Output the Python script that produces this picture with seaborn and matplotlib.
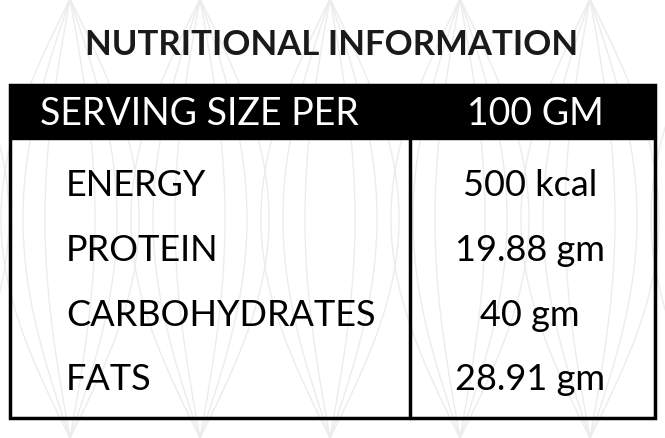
import matplotlib
matplotlib.use("Agg")
import matplotlib.pyplot as plt
import seaborn as sns
import numpy as np

sns.set_style("white")
plt.rcParams['font.family'] = ['Lato', 'DejaVu Sans']

title = "NUTRITIONAL INFORMATION"
header = ["SERVING SIZE PER", "100 GM"]
nutrients = ["ENERGY", "PROTEIN", "CARBOHYDRATES", "FATS"]
amounts = ["500 kcal", "19.88 gm", "40 gm", "28.91 gm"]

fig = plt.figure(figsize=(6.65, 4.39), dpi=100)
ax = fig.add_axes([0, 0, 1, 1])
ax.set_xlim(0, 665)
ax.set_ylim(439, 0)
ax.axis("off")

# faint leaf pattern in the background
t = np.linspace(0, 1, 100)
for cx in range(-60, 760, 130):
    for k in range(3):
        w = 25 + k * 22
        ax.plot(cx - w * np.sin(np.pi * t), 439 - 439 * t, color="#ececec", lw=1.0, zorder=0)
        ax.plot(cx + w * np.sin(np.pi * t), 439 - 439 * t, color="#ececec", lw=1.0, zorder=0)

ax.text(332, 45, title, ha="center", va="center", fontsize=25, fontweight="bold", color="#1a1a1a")

# table frame
ax.add_patch(plt.Rectangle((10, 86), 645, 333, fill=False, ec="black", lw=2.5, zorder=2))
ax.add_patch(plt.Rectangle((10, 86), 645, 54, fc="black", ec="black", zorder=2))
ax.plot([410, 410], [140, 419], color="black", lw=2.5, zorder=2)

ax.text(40, 114, header[0], ha="left", va="center", fontsize=27, color="white", zorder=3)
ax.text(535, 114, header[1], ha="center", va="center", fontsize=27, color="white", zorder=3)

ys = [186, 251, 316, 380]
for y, name, val in zip(ys, nutrients, amounts):
    ax.text(66, y, name, ha="left", va="center", fontsize=26, color="black", zorder=3)
    ax.text(530, y, val, ha="center", va="center", fontsize=26, color="black", zorder=3)

fig.savefig("out.png", dpi=100)
